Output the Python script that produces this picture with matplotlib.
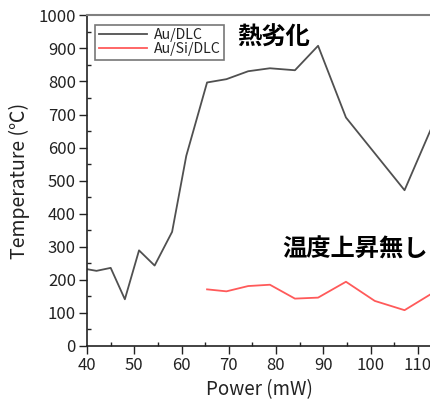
import matplotlib
matplotlib.use("Agg")
from matplotlib import pyplot as plt
from matplotlib.ticker import MultipleLocator

plt.rcParams['font.family'] = ['Noto Sans CJK JP', 'DejaVu Sans']

# Au/DLC film temperature vs laser power
power_dlc = [40, 42, 45, 48, 51, 54.3, 58, 61, 65.4, 69.5, 74.1, 78.7, 84, 88.9, 94.8, 107.2, 112.7]
temp_dlc = [232, 227, 236, 141, 289, 243, 345, 575, 797, 807, 831, 840, 834, 908, 691, 471, 653]

# Au/Si/DLC film temperature vs laser power
power_si = [65.4, 69.5, 74.1, 78.7, 84, 88.9, 94.8, 100.9, 107.2, 112.7]
temp_si = [171, 165, 181, 185, 143, 146, 194, 136, 108, 156]

fig = plt.figure(figsize=(4.31, 4.05), dpi=100)
ax = fig.add_axes([0.202, 0.146, 0.798, 0.816])

ax.plot(power_dlc, temp_dlc, color='#505050', lw=1.3, label='Au/DLC')
ax.plot(power_si, temp_si, color='#ff5a5a', lw=1.3, label='Au/Si/DLC')

ax.set_xlim(40, 112.8)
ax.set_ylim(0, 1000)
ax.xaxis.set_major_locator(MultipleLocator(10))
ax.xaxis.set_minor_locator(MultipleLocator(5))
ax.yaxis.set_major_locator(MultipleLocator(100))
ax.yaxis.set_minor_locator(MultipleLocator(50))
ax.tick_params(which='major', direction='out', length=6, width=1, labelsize=12,
               colors='#222222', pad=2)
ax.tick_params(which='minor', direction='in', length=3, width=1, colors='#222222')

ax.spines['right'].set_visible(False)
ax.spines['top'].set_color('#808080')
ax.spines['top'].set_linewidth(1.5)
for s in ('left', 'bottom'):
    ax.spines[s].set_color('#222222')
    ax.spines[s].set_linewidth(1.2)

ax.set_xlabel('Power (mW)', fontsize=13.5, color='#222222', labelpad=4)
ax.set_ylabel('Temperature (℃)', fontsize=14, color='#222222', labelpad=6)

leg = ax.legend(loc='upper left', bbox_to_anchor=(0.015, 0.98), fontsize=10.2,
                frameon=True, fancybox=False, handlelength=3.4, handletextpad=0.5,
                borderpad=0.25, labelspacing=0.0, borderaxespad=0.2)
leg.get_frame().set_edgecolor('#555555')
leg.get_frame().set_linewidth(1.2)
for t in leg.get_texts():
    t.set_color('#222222')

ax.text(71.7, 933, '熱劣化', fontsize=17.5, fontweight='bold', va='center', ha='left')
ax.text(81.4, 290, '温度上昇無し', fontsize=17.5, fontweight='bold', va='center', ha='left')

fig.savefig('out.png', dpi=100)
